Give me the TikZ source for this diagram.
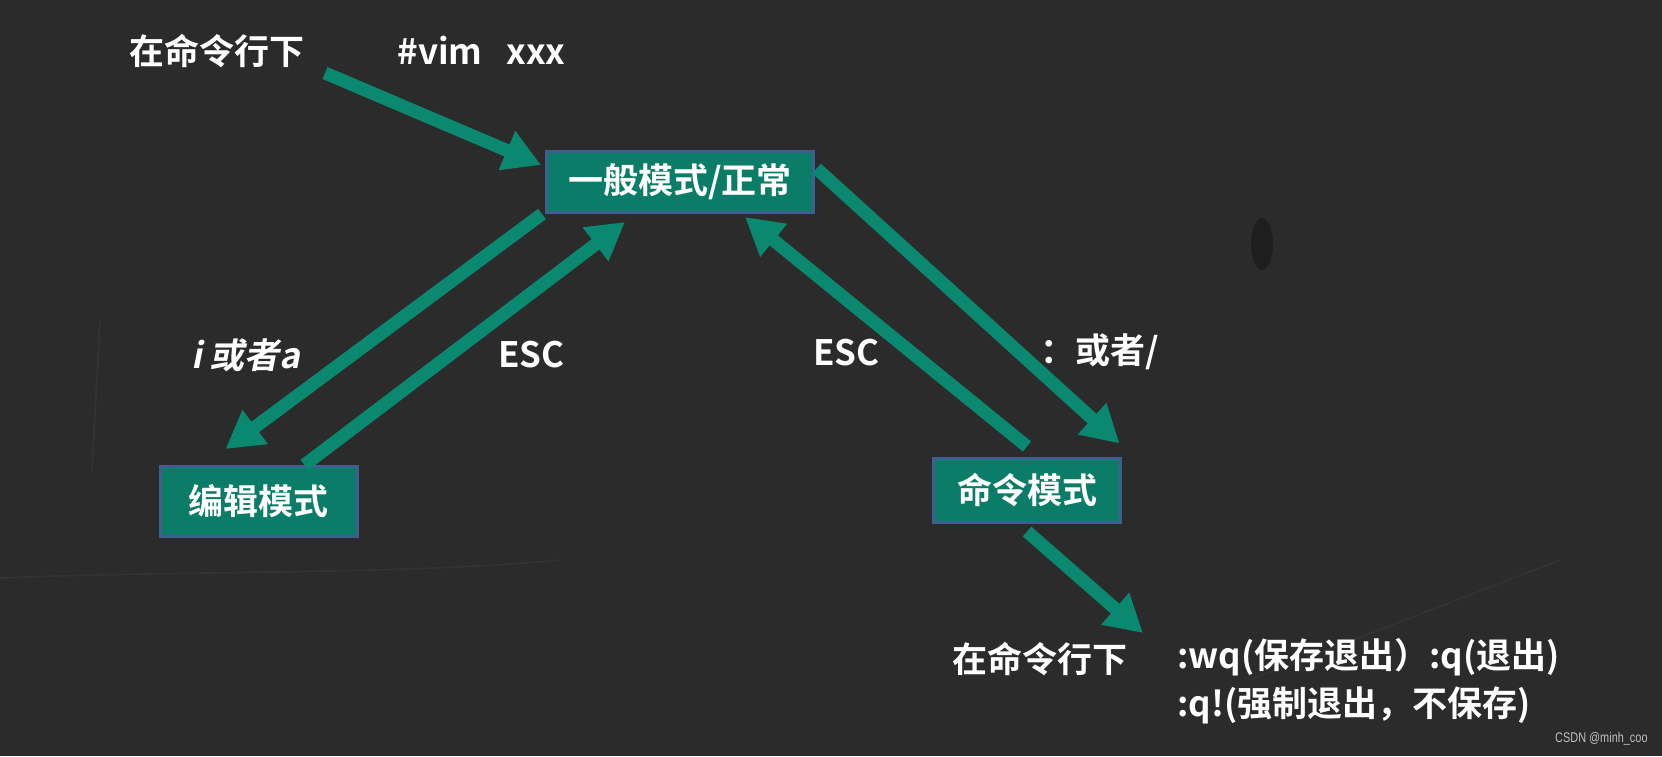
\documentclass[tikz,border=0pt]{standalone}
\usepackage{fontspec}
\usetikzlibrary{arrows.meta}
\newfontfamily\cjkb{Noto Sans CJK SC Bold}
\newfontfamily\cjksl{Noto Sans CJK SC Bold}[FakeSlant=0.2]
\newfontfamily\wmark{Liberation Sans}
\definecolor{board}{HTML}{2B2B2B}
\definecolor{boxc}{HTML}{0B7C67}
\definecolor{arrc}{HTML}{0A8870}
\definecolor{rim}{HTML}{3F5F90}
\begin{document}
\begin{tikzpicture}[x=0.5pt,y=-0.5pt,
  lab/.style={font=\cjkb\fontsize{17.5}{20}\selectfont, text=white, inner sep=0pt, anchor=west},
  modebox/.style={draw=rim, line width=1.5pt, fill=boxc, text=white, inner sep=0pt,
     font=\cjkb\fontsize{17.5}{20}\selectfont},
  conn/.style={draw=arrc, line width=6.5pt, -{Triangle[length=18.5pt,width=20pt]}},
  chalk/.style={draw=white, draw opacity=0.04, line width=0.8pt}]
\fill[board] (0,0) rectangle (1662,756);
\useasboundingbox (0,0) rectangle (1662,756);
% chalkboard texture
\foreach \r in {1,...,20}{
  \fill[white, fill opacity=0.0045] (1390,330) ellipse ({20+\r*13} and {15+\r*10});
  \fill[white, fill opacity=0.004] (1520,620) ellipse ({20+\r*12} and {10+\r*6});
  \fill[white, fill opacity=0.003] (320,650) ellipse ({30+\r*16} and {10+\r*5});
}
\fill[black, fill opacity=0.3] (1262,244) ellipse (11 and 26);
\draw[chalk] (0,578) .. controls (200,570) and (400,575) .. (560,560);
\draw[chalk] (1250,680) -- (1560,560);
\draw[chalk] (100,320) -- (92,470);

% texts
\node[lab] (top1) at (129,51) {在命令行下};
\node[lab] (vim) at (397,50) {\#vim\hspace{12pt}xxx};
\node[lab, font=\cjksl\fontsize{17.5}{20}\selectfont] (ia) at (191,355) {i 或者a};
\node[lab] (esc1) at (498,355) {ESC};
\node[lab] (esc2) at (813,353) {ESC};
\node[lab] (colon) at (1040,352) {：或者/};
\node[lab] (bot1) at (952,659) {在命令行下};
\node[lab] (wq) at (1177,657) {:wq(保存退出）:q(退出)};
\node[lab] (qb) at (1177,705) {:q!(强制退出，不保存)};
\node[anchor=east, inner sep=0pt, text=white!75!black, font=\wmark\fontsize{7}{8}\selectfont] (mark) at (1648,739) {\scalebox{0.78}[1]{CSDN @minh\_coo}};

% boxes
\node[modebox, minimum width=133.5pt, minimum height=30.5pt] (normal) at (680,182) {一般模式/正常};
\node[modebox, minimum width=98.5pt, minimum height=35pt] (edit) at (258.5,501.5) {编辑模式};
\node[modebox, minimum width=93.5pt, minimum height=32pt] (cmd) at (1027,490) {命令模式};

% connectors
\coordinate (s1) at (325,73);
\coordinate (e6) at (1143,633);
\draw[conn] (s1) -- ([shift={(-4,15)}]normal.north west);
\draw[conn] ([shift={(-3,0)}]normal.south west) -- ([shift={(67,-16)}]edit.north west);
\draw[conn] ([shift={(46,0)}]edit.north) -- ([shift={(-55,8)}]normal.south);
\draw[conn] ([shift={(0,-10)}]cmd.north) -- ([shift={(65,3)}]normal.south);
\draw[conn] ([shift={(1.5,18.5)}]normal.north east) -- ([shift={(-2.5,-13)}]cmd.north east);
\draw[conn] ([shift={(0,8)}]cmd.south) -- (e6);
\end{tikzpicture}
\end{document}
